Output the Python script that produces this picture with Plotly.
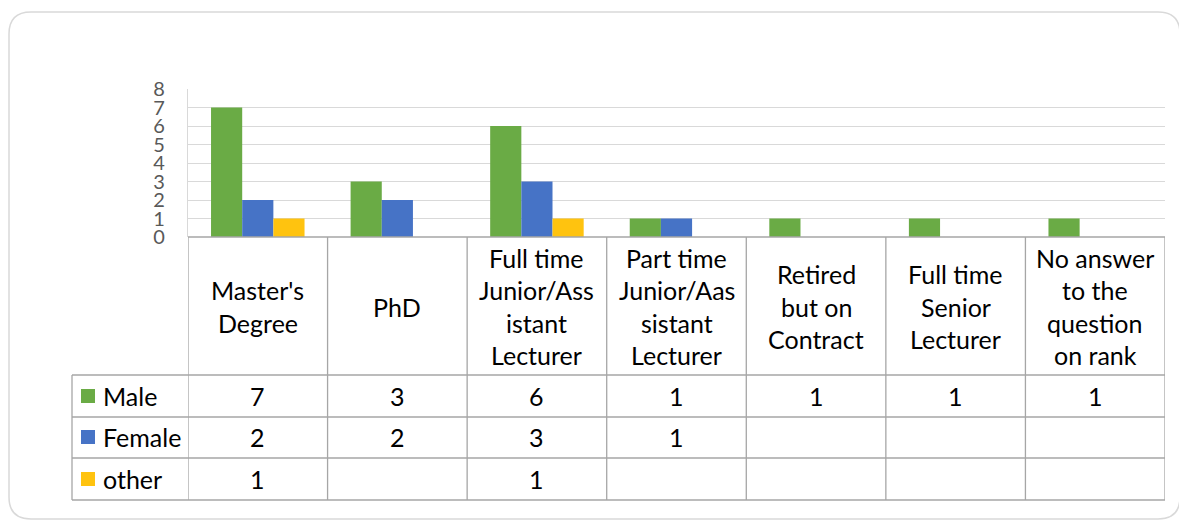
import plotly.graph_objects as go

categories = [
    ["Master's", "Degree"],
    ["PhD"],
    ["Full time", "Junior/Ass", "istant", "Lecturer"],
    ["Part time", "Junior/Aas", "sistant", "Lecturer"],
    ["Retired", "but on", "Contract"],
    ["Full time", "Senior", "Lecturer"],
    ["No answer", "to the", "question", "on rank"],
]
male = [7, 3, 6, 1, 1, 1, 1]
female = [2, 2, 3, 1, None, None, None]
other = [1, None, 1, None, None, None, None]
series = [("Male", male, "#6aab45"), ("Female", female, "#4673c6"), ("other", other, "#ffc30f")]

W, H = 1187, 522
OFF = 8  # page body margin, compensate so things land where the reference has them


def px(x):
    return (x - OFF) / W


def py(y):
    return 1 - (y - OFF) / H


FONT = "Lato, 'Open Sans', sans-serif"
LINE = "#a6a6a6"
x_idx = list(range(len(categories)))

fig = go.Figure()
for name, vals, color in series:
    fig.add_trace(go.Bar(x=x_idx, y=vals, name=name, marker=dict(color=color, line=dict(width=0))))

shapes = []
# outer rounded frame
r = 22
x0, y0, x1, y1 = 9, 12, 1180, 519
path = (f"M {px(x0+r)},{py(y0)} L {px(x1-r)},{py(y0)} Q {px(x1)},{py(y0)} {px(x1)},{py(y0+r)} "
        f"L {px(x1)},{py(y1-r)} Q {px(x1)},{py(y1)} {px(x1-r)},{py(y1)} "
        f"L {px(x0+r)},{py(y1)} Q {px(x0)},{py(y1)} {px(x0)},{py(y1-r)} "
        f"L {px(x0)},{py(y0+r)} Q {px(x0)},{py(y0)} {px(x0+r)},{py(y0)} Z")
shapes.append(dict(type="path", path=path, xref="paper", yref="paper",
                   line=dict(color="#d9d9d9", width=1.5), layer="below"))

# table grid
row_lines = [375, 417, 458, 500]
for k in range(len(categories) + 1):
    shapes.append(dict(type="line", xref="x", yref="paper", x0=k - 0.5, x1=k - 0.5,
                       y0=py(237), y1=py(500), line=dict(color=LINE, width=1.3)))
shapes.append(dict(type="line", xref="paper", yref="paper", x0=px(188), x1=px(1165),
                   y0=py(237), y1=py(237), line=dict(color=LINE, width=1.3)))
for yy in row_lines:
    shapes.append(dict(type="line", xref="paper", yref="paper", x0=px(72), x1=px(1165),
                       y0=py(yy), y1=py(yy), line=dict(color=LINE, width=1.3)))
shapes.append(dict(type="line", xref="paper", yref="paper", x0=px(72), x1=px(72),
                   y0=py(375), y1=py(500), line=dict(color=LINE, width=1.3)))

annotations = []
# category labels, one annotation per wrapped line
for i, lines in enumerate(categories):
    n = len(lines)
    for j, t in enumerate(lines):
        yc = 306.5 + (j - (n - 1) / 2) * 32.5
        annotations.append(dict(x=i, y=py(yc), xref="x", yref="paper", text=t, showarrow=False,
                                font=dict(family=FONT, size=25, color="#000000"),
                                xanchor="center", yanchor="middle"))

# rows of values with legend keys
row_centers = [396, 437, 479]
for (name, vals, color), yc in zip(series, row_centers):
    shapes.append(dict(type="rect", xref="paper", yref="paper", x0=px(81), x1=px(95),
                       y0=py(yc - 7), y1=py(yc + 7), fillcolor=color, line=dict(width=0)))
    annotations.append(dict(x=px(101), y=py(yc), xref="paper", yref="paper", text=name,
                            showarrow=False, xanchor="left", yanchor="middle",
                            font=dict(family=FONT, size=25, color="#000000")))
    for i, v in enumerate(vals):
        if v is None:
            continue
        annotations.append(dict(x=i, y=py(yc), xref="x", yref="paper", text=str(v),
                                showarrow=False, xanchor="center", yanchor="middle",
                                font=dict(family=FONT, size=25, color="#000000")))

fig.update_layout(
    width=W, height=H,
    margin=dict(l=0, r=0, t=0, b=0, autoexpand=False),
    paper_bgcolor="white", plot_bgcolor="white",
    barmode="group", bargap=0.33, bargroupgap=0,
    showlegend=False,
    shapes=shapes, annotations=annotations,
    xaxis=dict(domain=[px(188), px(1165)], range=[-0.5, len(categories) - 0.5],
               showticklabels=False, showgrid=False, zeroline=False, fixedrange=True,
               automargin=False),
    yaxis=dict(domain=[py(237), py(89)], range=[0, 8], dtick=1, showgrid=True,
               gridcolor="#d9d9d9", gridwidth=1.3, zeroline=False,
               showline=True, linecolor="#d9d9d9", linewidth=1.3,
               ticks="", ticklabelstandoff=18, automargin=False,
               tickfont=dict(family=FONT, size=20, color="#595959")),
)

fig.write_html("out.html", config=dict(displayModeBar=False))
